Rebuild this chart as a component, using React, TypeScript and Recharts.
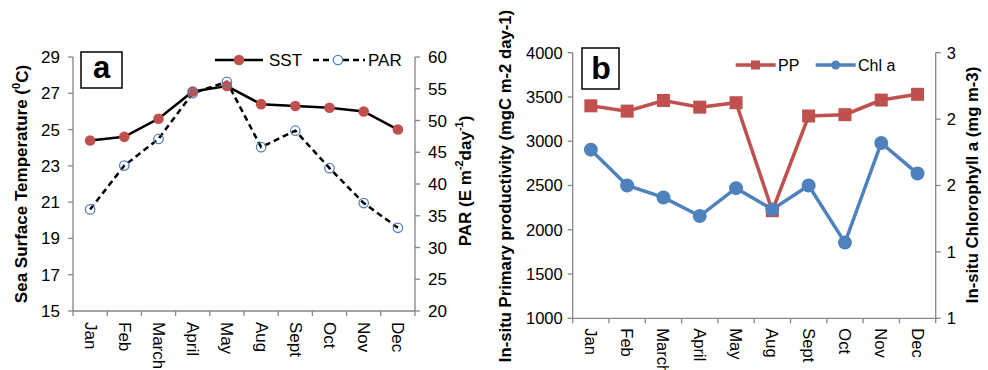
import React from "react";
import { LineChart, Line, XAxis, YAxis, Customized } from "recharts";

// months sampled (no Jun/Jul in the survey)
const months = ["Jan", "Feb", "March", "April", "May", "Aug", "Sept", "Oct", "Nov", "Dec"];
// panel a
const sst = [24.4, 24.6, 25.6, 27.1, 27.4, 26.4, 26.3, 26.2, 26.0, 25.0];
const par = [36.0, 42.9, 47.1, 54.3, 56.1, 45.8, 48.4, 42.5, 37.0, 33.1];
const sstTicks = [15, 17, 19, 21, 23, 25, 27, 29];
const parTicks = [20, 25, 30, 35, 40, 45, 50, 55, 60];
// panel b
const pp = [3400, 3340, 3460, 3385, 3435, 2215, 3285, 3300, 3465, 3530];
const chl = [2.27, 2.0, 1.91, 1.77, 1.98, 1.82, 2.0, 1.57, 2.32, 2.09];
const ppTicks = [1000, 1500, 2000, 2500, 3000, 3500, 4000];
const chlTicks = [1, 1.5, 2, 2.5, 3];

const dataA = months.map((m, i) => ({ month: m, sst: sst[i], par: par[i] }));
const dataB = months.map((m, i) => ({ month: m, pp: pp[i], chl: chl[i] }));

const FONT = "'Liberation Sans', Arial, Helvetica, sans-serif";
const AXIS = "#868686";
const RED = "#C0504D";
const BLUE = "#4F81BD";

// plot widths, used for the between-category tick marks
const BW_A = 342 / months.length;
const BW_B = 363 / months.length;

function MonthTick(props: any) {
  const { x, y, payload, index, bw, fontSize, gap } = props;
  const last = index === months.length - 1;
  return (
    <g>
      <line x1={x - bw / 2} y1={y} x2={x - bw / 2} y2={y + 5} stroke={AXIS} strokeWidth={1.3} />
      {last && <line x1={x + bw / 2} y1={y} x2={x + bw / 2} y2={y + 5} stroke={AXIS} strokeWidth={1.3} />}
      <text
        transform={`translate(${x},${y + gap}) rotate(90)`}
        textAnchor="start"
        dominantBaseline="central"
        fontSize={fontSize}
        fill="#000"
        fontFamily={FONT}
      >
        {payload.value}
      </text>
    </g>
  );
}

function SquareDot(props: any) {
  const { cx, cy, size = 13 } = props;
  if (cx == null || cy == null) return null;
  return <rect x={cx - size / 2} y={cy - size / 2} width={size} height={size} fill={RED} />;
}

function DecorA() {
  return (
    <g fontFamily={FONT}>
      <rect x={81} y={52} width={41} height={36} fill="#fff" stroke="#000" strokeWidth={1.5} />
      <text x={101.5} y={78} textAnchor="middle" fontSize={31} fontWeight="bold">a</text>

      <line x1={215} y1={60} x2={263} y2={60} stroke="#000" strokeWidth={2.5} />
      <circle cx={239} cy={60} r={5.3} fill={RED} />
      <text x={269} y={60} dominantBaseline="central" fontSize={17}>SST</text>
      <line x1={313} y1={60} x2={365} y2={60} stroke="#000" strokeWidth={2.5} strokeDasharray="6 4" />
      <circle cx={338} cy={60} r={4.7} fill="#fff" stroke={BLUE} strokeWidth={1.3} />
      <text x={368} y={60} dominantBaseline="central" fontSize={17}>PAR</text>

      <text
        transform="translate(21.5,184) rotate(-90)"
        textAnchor="middle"
        dominantBaseline="central"
        fontSize={17}
        fontWeight="bold"
      >
        Sea Surface Temperature (<tspan dy={-6} fontSize={11}>0</tspan>
        <tspan dy={6}>C)</tspan>
      </text>
      <text
        transform="translate(465,181) rotate(-90)"
        textAnchor="middle"
        dominantBaseline="central"
        fontSize={17}
        fontWeight="bold"
      >
        PAR (E m<tspan dy={-6} fontSize={11}>-2</tspan>
        <tspan dy={6}>day</tspan>
        <tspan dy={-6} fontSize={11}>-1</tspan>
        <tspan dy={6}>)</tspan>
      </text>
    </g>
  );
}

function DecorB() {
  return (
    <g fontFamily={FONT}>
      <rect x={92} y={48} width={37} height={41} fill="#fff" stroke="#000" strokeWidth={1.5} />
      <text x={111} y={79} textAnchor="middle" fontSize={32} fontWeight="bold">b</text>

      <line x1={245.7} y1={65} x2={285.7} y2={65} stroke={RED} strokeWidth={3.5} />
      <rect x={261} y={60.5} width={9} height={9} fill={RED} />
      <text x={288} y={65} dominantBaseline="central" fontSize={16}>PP</text>
      <line x1={325.7} y1={65} x2={365.7} y2={65} stroke={BLUE} strokeWidth={3.5} />
      <circle cx={345.7} cy={65} r={4.5} fill={BLUE} />
      <text x={368} y={65} dominantBaseline="central" fontSize={16}>Chl a</text>

      <text
        transform="translate(15,186) rotate(-90)"
        textAnchor="middle"
        dominantBaseline="central"
        fontSize={16.7}
        fontWeight="bold"
      >
        In-situ Primary productivity (mgC m-2 day-1)
      </text>
      <text
        transform="translate(482,185) rotate(-90)"
        textAnchor="middle"
        dominantBaseline="central"
        fontSize={16.7}
        fontWeight="bold"
      >
        In-situ Chlorophyll a (mg m-3)
      </text>
    </g>
  );
}

export default function App() {
  const axisLine = { stroke: AXIS, strokeWidth: 1.3 };
  return (
    <div style={{ position: "relative", width: 988, height: 370, background: "#fff", fontFamily: FONT }}>
      <style>{"body{margin:0}"}</style>
      <div style={{ position: "absolute", left: 0, top: 0 }}>
        <LineChart width={490} height={370} data={dataA} margin={{ top: 57, right: 15, bottom: 29, left: 13 }}>
          <XAxis
            dataKey="month"
            height={30}
            interval={0}
            tickSize={0}
            tickMargin={0}
            tickLine={false}
            axisLine={axisLine}
            padding={{ left: BW_A / 2, right: BW_A / 2 }}
            tick={(p: any) => <MonthTick {...p} bw={BW_A} fontSize={17} gap={11} />}
          />
          <YAxis
            yAxisId="sst"
            width={60}
            domain={[15, 29]}
            ticks={sstTicks}
            interval={0}
            tickSize={5}
            tickMargin={8}
            axisLine={axisLine}
            tickLine={axisLine}
            tick={{ fill: "#000", fontSize: 17 }}
          />
          <YAxis
            yAxisId="par"
            orientation="right"
            width={60}
            domain={[20, 60]}
            ticks={parTicks}
            interval={0}
            tickSize={5}
            tickMargin={8}
            axisLine={axisLine}
            tickLine={axisLine}
            tick={{ fill: "#000", fontSize: 17 }}
          />
          <Line
            yAxisId="sst"
            dataKey="sst"
            type="linear"
            stroke="#000"
            strokeWidth={2.5}
            dot={{ r: 5.3, fill: RED, stroke: RED, strokeWidth: 0 }}
            isAnimationActive={false}
          />
          <Line
            yAxisId="par"
            dataKey="par"
            type="linear"
            stroke="#000"
            strokeWidth={2.5}
            strokeDasharray="6 4"
            dot={{ r: 4.7, fill: "none", stroke: BLUE, strokeWidth: 1.3, strokeDasharray: "" }}
            isAnimationActive={false}
          />
          <Customized component={DecorA} />
        </LineChart>
      </div>
      <div style={{ position: "absolute", left: 490, top: 0 }}>
        <LineChart width={498} height={370} data={dataB} margin={{ top: 52.7, right: 7.3, bottom: 21.7, left: 12.7 }}>
          <XAxis
            dataKey="month"
            height={30}
            interval={0}
            tickSize={0}
            tickMargin={0}
            tickLine={false}
            axisLine={axisLine}
            padding={{ left: BW_B / 2, right: BW_B / 2 }}
            tick={(p: any) => <MonthTick {...p} bw={BW_B} fontSize={16.5} gap={10} />}
          />
          <YAxis
            yAxisId="pp"
            width={70}
            domain={[1000, 4000]}
            ticks={ppTicks}
            interval={0}
            tickSize={5}
            tickMargin={5}
            axisLine={axisLine}
            tickLine={axisLine}
            tick={{ fill: "#000", fontSize: 16.5 }}
          />
          <YAxis
            yAxisId="chl"
            orientation="right"
            width={45}
            domain={[1, 3]}
            ticks={chlTicks}
            interval={0}
            tickSize={5}
            tickMargin={6}
            tickFormatter={(v: number) => String(Math.floor(v))}
            axisLine={axisLine}
            tickLine={axisLine}
            tick={{ fill: "#000", fontSize: 16.5 }}
          />
          <Line
            yAxisId="pp"
            dataKey="pp"
            type="linear"
            stroke={RED}
            strokeWidth={3.5}
            dot={(p: any) => <SquareDot key={`pp-${p.index}`} {...p} />}
            isAnimationActive={false}
          />
          <Line
            yAxisId="chl"
            dataKey="chl"
            type="linear"
            stroke={BLUE}
            strokeWidth={3.5}
            dot={{ r: 7, fill: BLUE, stroke: BLUE, strokeWidth: 0 }}
            isAnimationActive={false}
          />
          <Customized component={DecorB} />
        </LineChart>
      </div>
    </div>
  );
}
